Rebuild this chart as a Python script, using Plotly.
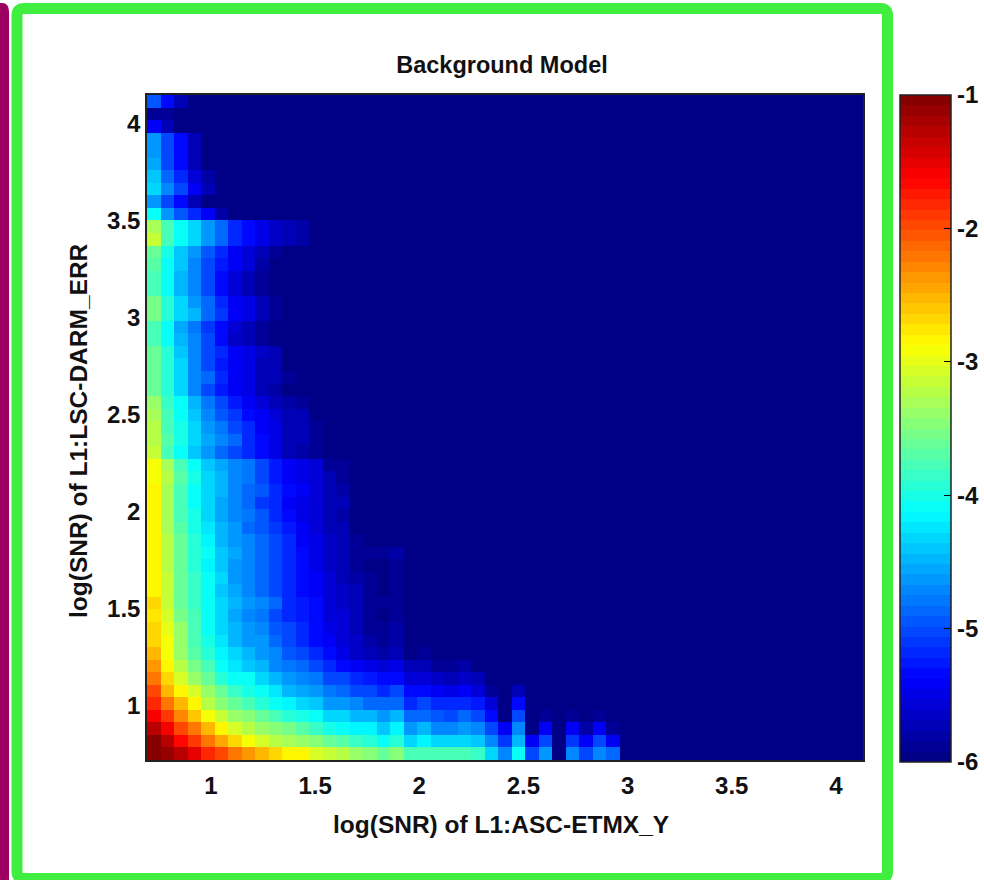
import numpy as np
import plotly.graph_objects as go

title_text = "Background Model"
x_label = "log(SNR) of L1:ASC-ETMX_Y"
y_label = "log(SNR) of L1:LSC-DARM_ERR"
axis_ticks = [1, 1.5, 2, 2.5, 3, 3.5, 4]
colorbar_ticks = [-1, -2, -3, -4, -5, -6]
x_low, x_high = 0.693, 4.13
y_low, y_high = 0.7216, 4.149
bins = 53
floor = -6

# log density, top row first, left column first; cells not listed sit at the floor
rows_top_to_bottom = [
    [-4.95, -5.3, -5.75],
    [-5.9, -5.9],
    [-5.4, -5.7],
    [-4.65, -5.0, -5.3, -5.75],
    [-4.65, -5.0, -5.3, -5.75],
    [-4.55, -5.0, -5.3, -5.7],
    [-4.4, -4.85, -5.2, -5.55, -5.8],
    [-4.3, -4.7, -5.05, -5.4, -5.7],
    [-4.6, -5.0, -5.35, -5.75],
    [-4.1, -4.65, -4.95, -5.2, -5.45, -5.8],
    [-3.3, -3.75, -4.1, -4.35, -4.6, -4.85, -5.15, -5.3, -5.5, -5.65, -5.7, -5.8],
    [-3.15, -3.75, -4.1, -4.35, -4.6, -4.85, -5.15, -5.3, -5.5, -5.65, -5.7, -5.8],
    [-3.6, -4.0, -4.4, -4.65, -4.95, -5.2, -5.4, -5.55, -5.75, -5.85],
    [-3.7, -4.05, -4.4, -4.7, -5.0, -5.25, -5.45, -5.6, -5.8, -5.95],
    [-3.75, -4.05, -4.45, -4.75, -5.0, -5.3, -5.55, -5.7, -5.85, -5.95],
    [-3.75, -4.05, -4.45, -4.75, -5.0, -5.3, -5.55, -5.7, -5.85, -5.95],
    [-3.55, -3.9, -4.35, -4.65, -4.9, -5.2, -5.4, -5.5, -5.75, -5.85],
    [-3.55, -3.9, -4.3, -4.5, -4.85, -5.1, -5.4, -5.5, -5.75, -5.85],
    [-3.75, -4.1, -4.55, -4.8, -5.1, -5.3, -5.6, -5.7, -5.85, -5.95],
    [-3.75, -4.05, -4.45, -4.75, -5.05, -5.3, -5.65, -5.75, -5.9, -6],
    [-3.6, -3.95, -4.4, -4.75, -5.0, -5.2, -5.4, -5.5, -5.65, -5.75],
    [-3.6, -3.95, -4.3, -4.7, -5.0, -5.25, -5.4, -5.5, -5.7, -5.75],
    [-3.6, -3.95, -4.3, -4.7, -4.9, -5.15, -5.4, -5.5, -5.7, -5.75, -5.9],
    [-3.6, -3.9, -4.3, -4.7, -5.0, -5.25, -5.4, -5.5, -5.7, -5.8, -6],
    [-3.4, -3.85, -4.1, -4.5, -4.8, -5.05, -5.25, -5.4, -5.6, -5.7, -5.8, -5.85],
    [-3.3, -3.8, -4.1, -4.4, -4.7, -4.95, -5.1, -5.3, -5.4, -5.6, -5.7, -5.75, -5.95],
    [-3.25, -3.75, -4.0, -4.35, -4.6, -4.8, -5.0, -5.15, -5.4, -5.5, -5.7, -5.75, -5.85],
    [-3.2, -3.7, -4.0, -4.35, -4.55, -4.75, -4.9, -5.15, -5.35, -5.5, -5.7, -5.75, -5.85],
    [-3.15, -3.75, -4.05, -4.4, -4.65, -4.85, -5.0, -5.15, -5.35, -5.5, -5.7, -5.8, -5.85],
    [-2.95, -3.3, -3.8, -4.05, -4.4, -4.55, -4.7, -4.8, -5.05, -5.25, -5.4, -5.5, -5.6, -5.85, -5.9],
    [-2.9, -3.2, -3.7, -4.0, -4.3, -4.5, -4.7, -4.8, -5.05, -5.25, -5.4, -5.5, -5.6, -5.7, -5.85],
    [-2.85, -3.3, -3.75, -4.05, -4.3, -4.5, -4.7, -4.85, -4.95, -5.15, -5.35, -5.45, -5.6, -5.75, -5.8],
    [-2.85, -3.3, -3.75, -4.05, -4.3, -4.55, -4.7, -4.85, -5.1, -5.15, -5.4, -5.5, -5.55, -5.75, -5.75],
    [-2.85, -3.3, -3.75, -4.0, -4.3, -4.55, -4.7, -4.8, -4.95, -5.2, -5.35, -5.5, -5.6, -5.75, -5.8],
    [-2.85, -3.3, -3.7, -4.0, -4.25, -4.5, -4.65, -4.85, -4.95, -5.1, -5.25, -5.4, -5.55, -5.7, -5.75, -5.95],
    [-2.85, -3.2, -3.6, -3.95, -4.2, -4.45, -4.65, -4.75, -4.85, -5.05, -5.2, -5.4, -5.5, -5.65, -5.75, -5.9],
    [-2.85, -3.2, -3.6, -3.95, -4.1, -4.4, -4.55, -4.7, -4.85, -5.0, -5.2, -5.35, -5.5, -5.65, -5.7, -5.85, -5.9, -5.9, -5.8],
    [-2.85, -3.2, -3.6, -3.9, -4.15, -4.4, -4.6, -4.7, -4.85, -5.05, -5.2, -5.35, -5.5, -5.65, -5.75, -5.85, -5.95, -6, -5.85],
    [-2.85, -3.15, -3.6, -3.85, -4.1, -4.35, -4.6, -4.7, -4.85, -5.05, -5.15, -5.35, -5.4, -5.6, -5.75, -5.8, -5.9, -6, -5.85],
    [-2.85, -3.15, -3.6, -3.85, -4.1, -4.4, -4.55, -4.75, -4.85, -5.0, -5.15, -5.3, -5.4, -5.6, -5.65, -5.75, -5.85, -5.95, -5.85],
    [-2.65, -3.15, -3.6, -3.85, -4.05, -4.35, -4.5, -4.65, -4.75, -4.9, -5.15, -5.25, -5.35, -5.55, -5.65, -5.75, -5.85, -5.9, -5.85],
    [-2.75, -3.1, -3.55, -3.8, -4.1, -4.35, -4.55, -4.7, -4.8, -5.0, -5.15, -5.25, -5.35, -5.55, -5.6, -5.75, -5.85, -5.95, -5.85],
    [-2.7, -3.0, -3.4, -3.8, -4.05, -4.3, -4.5, -4.6, -4.7, -4.95, -5.05, -5.2, -5.35, -5.5, -5.6, -5.7, -5.85, -5.9, -5.8],
    [-2.65, -2.95, -3.4, -3.75, -4.0, -4.25, -4.45, -4.6, -4.65, -4.85, -5.05, -5.15, -5.3, -5.45, -5.55, -5.65, -5.8, -5.85, -5.8],
    [-2.55, -2.95, -3.35, -3.7, -3.95, -4.15, -4.35, -4.5, -4.6, -4.75, -4.95, -5.05, -5.2, -5.35, -5.5, -5.65, -5.75, -5.8, -5.75, -6, -5.85],
    [-2.4, -2.85, -3.2, -3.55, -3.75, -4.05, -4.25, -4.4, -4.5, -4.7, -4.8, -4.85, -5.0, -5.15, -5.3, -5.4, -5.5, -5.55, -5.5, -5.75, -5.7, -5.85, -5.9, -5.8],
    [-2.2, -2.65, -3.05, -3.35, -3.65, -3.9, -4.05, -4.1, -4.35, -4.5, -4.65, -4.75, -4.8, -5.0, -5.05, -5.2, -5.25, -5.35, -5.3, -5.6, -5.55, -5.65, -5.7, -5.65, -5.7],
    [-2.0, -2.5, -2.85, -3.1, -3.35, -3.65, -3.85, -4.0, -4.05, -4.25, -4.45, -4.55, -4.65, -4.8, -4.9, -5.0, -5.05, -5.15, -5.05, -5.35, -5.3, -5.4, -5.5, -5.4, -5.55, -5.85, -6, -5.75],
    [-1.8, -2.2, -2.55, -2.85, -3.2, -3.5, -3.6, -3.75, -3.9, -4.05, -4.2, -4.3, -4.4, -4.6, -4.6, -4.75, -4.85, -4.9, -4.9, -5.15, -5.05, -5.2, -5.2, -5.2, -5.25, -5.6, -6, -5.35],
    [-1.6, -1.9, -2.3, -2.6, -2.9, -3.15, -3.35, -3.5, -3.6, -3.8, -3.95, -4.0, -4.1, -4.3, -4.35, -4.45, -4.5, -4.65, -4.5, -4.85, -4.85, -4.95, -5.0, -4.9, -5.0, -5.3, -5.95, -5.0, -6, -5.9, -6, -5.85, -6, -5.85],
    [-1.25, -1.6, -1.95, -2.25, -2.55, -2.8, -3.1, -3.2, -3.35, -3.5, -3.55, -3.7, -3.85, -4.0, -4.05, -4.15, -4.2, -4.4, -4.15, -4.6, -4.5, -4.7, -4.7, -4.6, -4.75, -5.0, -5.45, -4.75, -6, -5.4, -6, -5.4, -5.8, -5.4, -5.85],
    [-1.05, -1.3, -1.65, -1.9, -2.2, -2.45, -2.65, -2.9, -3.1, -3.2, -3.3, -3.4, -3.5, -3.6, -3.7, -3.85, -3.95, -4.05, -3.95, -4.3, -4.15, -4.3, -4.35, -4.3, -4.4, -4.75, -5.1, -4.45, -5.4, -5.05, -6, -5.1, -5.4, -5.05, -5.45],
    [-1.0, -1.1, -1.3, -1.5, -1.8, -2.0, -2.2, -2.35, -2.5, -2.65, -2.85, -2.85, -3.05, -3.15, -3.25, -3.4, -3.45, -3.65, -3.5, -3.8, -3.8, -3.75, -3.75, -3.8, -3.85, -4.3, -4.75, -4.1, -5.0, -4.65, -6, -4.75, -5.0, -4.7, -4.9],
]

W, H = 984, 880
L, R, T, B = 147, 863, 95, 760
FONT = "Liberation Sans"
TICK_SIZE = 24
LABEL_SIZE = 24.5
TITLE_SIZE = 23.5
INK = "#111111"


def px(v):
    return (v - L) / (R - L)


def py(v):
    return (B - v) / (B - T)


def jet(t):
    r = np.clip(min(4 * t - 1.5, -4 * t + 4.5), 0, 1)
    g = np.clip(min(4 * t - 0.5, -4 * t + 3.5), 0, 1)
    b = np.clip(min(4 * t + 0.5, -4 * t + 2.5), 0, 1)
    return f"rgb({int(r * 255)},{int(g * 255)},{int(b * 255)})"


levels = 64
jet_scale = []
for i in range(levels):
    c = jet((i + 0.5) / levels)
    jet_scale += [[i / levels, c], [(i + 1) / levels, c]]

z = [row + [floor] * (bins - len(row)) for row in rows_top_to_bottom[::-1]]
x_edges = np.linspace(x_low, x_high, bins + 1)
y_edges = np.linspace(y_low, y_high, bins + 1)

fig = go.Figure(
    go.Heatmap(
        x=(x_edges[:-1] + x_edges[1:]) / 2,
        y=(y_edges[:-1] + y_edges[1:]) / 2,
        z=z,
        zmin=-6,
        zmax=-1,
        colorscale=jet_scale,
        colorbar=dict(
            xref="container",
            x=900 / W,
            xanchor="left",
            xpad=0,
            y=1,
            yanchor="top",
            ypad=0,
            lenmode="pixels",
            len=667,
            thicknessmode="pixels",
            thickness=51,
            tickvals=colorbar_ticks,
            ticktext=[str(v) for v in colorbar_ticks],
            ticks="inside",
            ticklen=7,
            tickcolor="black",
            tickwidth=1,
            outlinecolor="#222222",
            outlinewidth=1.5,
            tickfont=dict(family=FONT, size=TICK_SIZE, color=INK, weight=700),
        ),
    )
)


def rounded(x0, y0, x1, y1, r):
    a, b, c, d = px(x0), py(y0), px(x1), py(y1)
    rx, ry = r / (R - L), r / (B - T)
    return (
        f"M {a + rx} {b} L {c - rx} {b} Q {c} {b} {c} {b - ry} "
        f"L {c} {d + ry} Q {c} {d} {c - rx} {d} L {a + rx} {d} "
        f"Q {a} {d} {a} {d + ry} L {a} {b - ry} Q {a} {b} {a + rx} {b} Z"
    )


shapes = [
    dict(type="path", xref="paper", yref="paper", path=rounded(17, 8.5, 887.5, 878.5, 7),
         line=dict(color="#40EE40", width=11), fillcolor="rgba(0,0,0,0)", layer="below"),
    dict(type="path", xref="paper", yref="paper",
         path=f"M {px(-6)} {py(3)} L {px(2)} {py(3)} Q {px(9)} {py(3)} {px(9)} {py(12)} "
              f"L {px(9)} {py(884)} L {px(-6)} {py(884)} Z",
         line=dict(width=0), fillcolor="#9B0060", layer="below"),
]
for v in colorbar_ticks[:-1]:
    yp = 96 + (-1 - v) * 133
    shapes.append(dict(type="line", xref="paper", yref="paper", x0=px(900), x1=px(907),
                       y0=py(yp), y1=py(yp), line=dict(color="black", width=1)))

axis_common = dict(
    tickvals=axis_ticks,
    ticktext=[f"{v:g}" for v in axis_ticks],
    showgrid=False,
    zeroline=False,
    showline=True,
    mirror=True,
    linecolor="#222222",
    linewidth=1.5,
    tickfont=dict(family=FONT, size=TICK_SIZE, color=INK, weight=700),
)

label_font = dict(family=FONT, size=LABEL_SIZE, color=INK, weight=700)

fig.update_layout(
    width=W,
    height=H,
    autosize=False,
    margin=dict(l=L, r=W - R, t=T, b=H - B, pad=0),
    paper_bgcolor="white",
    plot_bgcolor="white",
    shapes=shapes,
    title=dict(
        text=title_text,
        x=502 / W,
        xanchor="center",
        xref="container",
        y=1 - 65 / H,
        yanchor="middle",
        yref="container",
        font=dict(family=FONT, size=TITLE_SIZE, color=INK, weight=700),
    ),
    xaxis=dict(**axis_common, range=[x_low, x_high], ticks="outside", ticklen=3,
               tickcolor="rgba(0,0,0,0)"),
    yaxis=dict(**axis_common, range=[y_low, y_high], ticks=""),
    annotations=[
        dict(text=x_label, xref="paper", yref="paper", x=px(501), y=py(824),
             xanchor="center", yanchor="middle", showarrow=False, font=label_font),
        dict(text=y_label, xref="paper", yref="paper", x=px(78), y=py(431), textangle=-90,
             xanchor="center", yanchor="middle", showarrow=False, font=label_font),
    ],
)

fig.write_html(
    "out.html",
    config={"displayModeBar": False},
    post_script="document.body.style.margin='0';document.documentElement.style.overflow='hidden';",
)
